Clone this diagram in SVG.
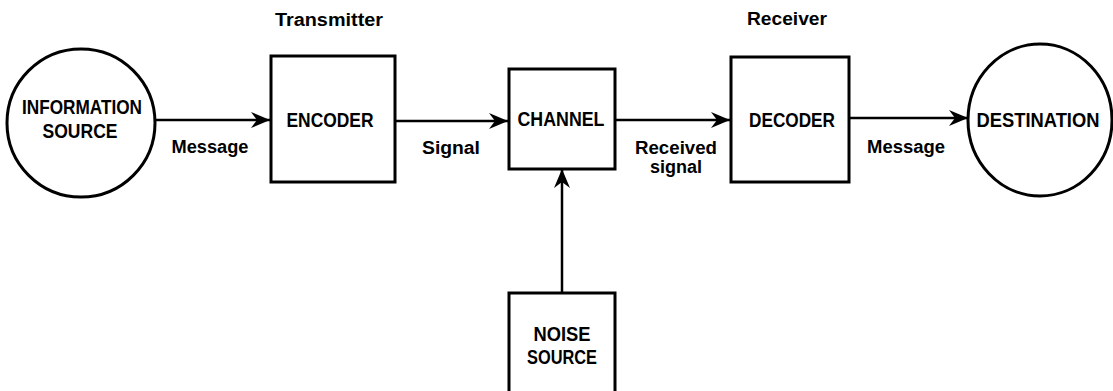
<svg xmlns="http://www.w3.org/2000/svg" width="1113" height="391" viewBox="0 0 1113 391">
<style>
.shape{fill:none;stroke:#000;stroke-width:3}
.lbl{font-family:"Liberation Sans",Arial,sans-serif;font-weight:bold;font-size:19.5px;fill:#000;text-anchor:middle}
.sm{font-family:"Liberation Sans",Arial,sans-serif;font-weight:bold;font-size:18px;fill:#000;text-anchor:middle}
.edge{fill:none;stroke:#000;stroke-width:2.5}
</style>
<defs>
<marker id="ah" markerWidth="20" markerHeight="16" refX="19" refY="8" orient="auto" markerUnits="userSpaceOnUse">
<path d="M0,0 L19,8 L0,16 L6,8 Z" fill="#000"/>
</marker>
</defs>
<g id="info-source">
<circle class="shape" cx="81" cy="123" r="74"/>
<text class="lbl" x="82" y="114" textLength="120" lengthAdjust="spacingAndGlyphs">INFORMATION</text>
<text class="lbl" x="80" y="138" textLength="75" lengthAdjust="spacingAndGlyphs">SOURCE</text>
</g>
<g id="encoder">
<rect class="shape" x="271" y="56" width="124" height="126"/>
<text class="lbl" x="330" y="127" textLength="87" lengthAdjust="spacingAndGlyphs">ENCODER</text>
<text class="sm" x="329" y="26" textLength="108" lengthAdjust="spacingAndGlyphs">Transmitter</text>
</g>
<g id="channel">
<rect class="shape" x="509" y="69" width="106" height="100"/>
<text class="lbl" x="561" y="126" textLength="87" lengthAdjust="spacingAndGlyphs">CHANNEL</text>
</g>
<g id="decoder">
<rect class="shape" x="731" y="57" width="118" height="125"/>
<text class="lbl" x="792" y="127" textLength="86" lengthAdjust="spacingAndGlyphs">DECODER</text>
<text class="sm" x="787" y="25" textLength="80" lengthAdjust="spacingAndGlyphs">Receiver</text>
</g>
<g id="destination">
<ellipse class="shape" cx="1040" cy="120" rx="72" ry="76"/>
<text class="lbl" x="1038" y="127" textLength="123" lengthAdjust="spacingAndGlyphs">DESTINATION</text>
</g>
<g id="noise-source">
<rect class="shape" x="509" y="293" width="106" height="110"/>
<text class="lbl" x="562" y="341" textLength="57" lengthAdjust="spacingAndGlyphs">NOISE</text>
<text class="lbl" x="562" y="364" textLength="70" lengthAdjust="spacingAndGlyphs">SOURCE</text>
</g>
<g id="connectors">
<line class="edge" x1="155" y1="120" x2="270" y2="120" marker-end="url(#ah)"/>
<line class="edge" x1="395" y1="121" x2="508" y2="121" marker-end="url(#ah)"/>
<line class="edge" x1="615" y1="120" x2="730" y2="120" marker-end="url(#ah)"/>
<line class="edge" x1="849" y1="118" x2="968" y2="118" marker-end="url(#ah)"/>
<line class="edge" x1="562" y1="293" x2="562" y2="169" marker-end="url(#ah)"/>
<text class="sm" x="210" y="153" textLength="77" lengthAdjust="spacingAndGlyphs">Message</text>
<text class="sm" x="451" y="154" textLength="58" lengthAdjust="spacingAndGlyphs">Signal</text>
<text class="sm" x="676" y="154" textLength="82" lengthAdjust="spacingAndGlyphs">Received</text>
<text class="sm" x="676" y="173" textLength="52" lengthAdjust="spacingAndGlyphs">signal</text>
<text class="sm" x="906" y="153" textLength="78" lengthAdjust="spacingAndGlyphs">Message</text>
</g>
</svg>
